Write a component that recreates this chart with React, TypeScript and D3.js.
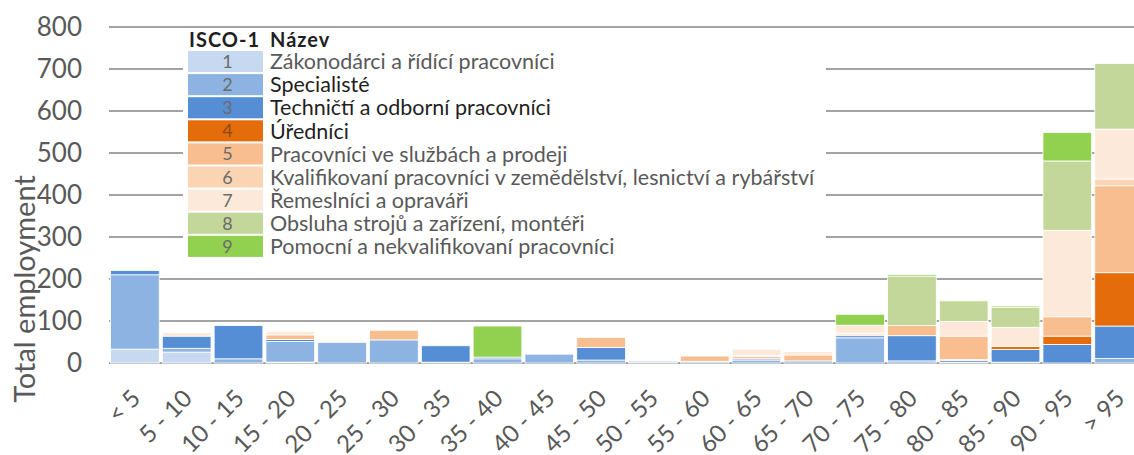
import React from "react";
import * as d3 from "d3";

const categories = ["< 5","5 - 10","10 - 15","15 - 20","20 - 25","25 - 30","30 - 35","35 - 40","40 - 45","45 - 50","50 - 55","55 - 60","60 - 65","65 - 70","70 - 75","75 - 80","80 - 85","85 - 90","90 - 95","> 95"];

const isco1 = [33,26,0,2,0,0,0,0,0,0,0,0,0,0,0,0,0,0,0,0];
const isco2 = [177,9,10,49,49,55,2,10,21,7,1,3,7,5,60,5,2,2,0,11];
const isco3 = [10,29,79,5,0,0,39,4,0,30,3,1,3,0,5,60,4,30,44,77];
const isco4 = [0,0,0,0,0,0,0,0,0,0,0,0,0,0,0,0,2,7,20,127];
const isco5 = [0,0,0,11,0,23,0,0,0,24,0,13,5,14,4,24,56,0,46,207];
const isco6 = [0,0,0,0,0,0,0,0,0,0,0,0,3,0,2,0,0,0,0,16];
const isco7 = [0,8,0,8,0,0,0,0,0,0,0,2,15,8,19,0,35,46,206,119];
const isco8 = [0,0,0,0,0,0,0,0,0,0,0,0,0,0,0,118,49,48,165,156];
const isco9 = [0,0,0,0,0,0,0,74,0,0,0,0,0,0,26,4,0,3,68,0];

const seriesKeys = ["1","2","3","4","5","6","7","8","9"];
const seriesValues = [isco1, isco2, isco3, isco4, isco5, isco6, isco7, isco8, isco9];
const seriesNames = [
  "Zákonodárci a řídící pracovníci",
  "Specialisté",
  "Techničtí a odborní pracovníci",
  "Úředníci",
  "Pracovníci ve službách a prodeji",
  "Kvalifikovaní pracovníci v zemědělství, lesnictví a rybářství",
  "Řemeslníci a opraváři",
  "Obsluha strojů a zařízení, montéři",
  "Pomocní a nekvalifikovaní pracovníci",
];
const seriesColors = ["#c6d9f1","#8db3e2","#558ed5","#e46c0a","#f9be8f","#fbd4b4","#fde9d9","#c4d79b","#92d050"];
const nameColors = ["#595959","#1f1f1f","#1f1f1f","#1f1f1f","#595959","#595959","#595959","#595959","#595959"];
const yTicks = [0,100,200,300,400,500,600,700,800];
const legendHeader = ["ISCO-1", "Název"];
const yTitle = "Total employment";

const W = 1134, H = 455;
const FONT = "Lato, 'Open Sans', sans-serif";

export default function App() {
  const rows = categories.map((c, i) => {
    const r: any = { cat: c };
    seriesKeys.forEach((k, j) => (r[k] = seriesValues[j][i]));
    return r;
  });
  const stacked = d3.stack().keys(seriesKeys)(rows);
  const x = d3.scaleBand().domain(categories).range([109, 1145]).paddingInner(0.06).paddingOuter(0.03);
  const y = d3.scaleLinear().domain([0, 800]).range([363, 27]);
  const color = d3.scaleOrdinal<string, string>().domain(seriesKeys).range(seriesColors);

  const legX = 188, legY = 51, rowH = 23.1, swW = 75;

  return (
    <svg width={W} height={H} style={{ position: "absolute", left: 0, top: 0, background: "#fff" }} fontFamily={FONT}>
      {yTicks.map((t) => (
        <line key={"g" + t} x1={109} x2={W} y1={y(t)} y2={y(t)} stroke="#a3a3a3" strokeWidth={2} />
      ))}
      {yTicks.map((t) => (
        <text key={"yt" + t} x={82} y={y(t)} dy="0.36em" textAnchor="end" fontSize={26} fill="#595959">{t}</text>
      ))}
      <text transform={`translate(35,${289}) rotate(-90)`} textAnchor="middle" fontSize={29} fill="#595959">{yTitle}</text>
      {stacked.map((s) => (
        <g key={s.key} fill={color(s.key)}>
          {s.map((d, i) =>
            d[1] - d[0] > 0 ? (
              <rect key={i} x={x(categories[i])!} width={x.bandwidth()} y={y(d[1])} height={y(d[0]) - y(d[1])} stroke="#fff" strokeWidth={0.8} />
            ) : null
          )}
        </g>
      ))}
      {categories.map((c) => (
        <text key={"xl" + c} transform={`translate(${x(c)! + x.bandwidth() / 2 + 7},${400}) rotate(-45)`} textAnchor="end" fontSize={24} fill="#595959">{c}</text>
      ))}
      <g>
        <rect x={183} y={30} width={643} height={226} fill="#fff" />
        <text x={189} y={40} dy="0.34em" fontSize={20} fontWeight="bold" letterSpacing={1} fill="#1f1f1f">{legendHeader[0]}</text>
        <text x={270} y={40} dy="0.34em" fontSize={20} fontWeight="bold" letterSpacing={1} fill="#1f1f1f">{legendHeader[1]}</text>
        {seriesKeys.map((k, j) => (
          <g key={"lg" + k}>
            <rect x={legX} y={legY + j * rowH} width={swW} height={rowH - 2} fill={seriesColors[j]} />
            <text x={legX + swW / 2 + 2} y={legY + j * rowH + (rowH - 2) / 2} dy="0.36em" textAnchor="middle" fontSize={18} fill={j === 3 ? "#8a4a1a" : "#6b6b6b"}>{k}</text>
            <text x={270} y={legY + j * rowH + (rowH - 2) / 2} dy="0.36em" fontSize={21.5} fill={nameColors[j]}>{seriesNames[j]}</text>
          </g>
        ))}
      </g>
    </svg>
  );
}
